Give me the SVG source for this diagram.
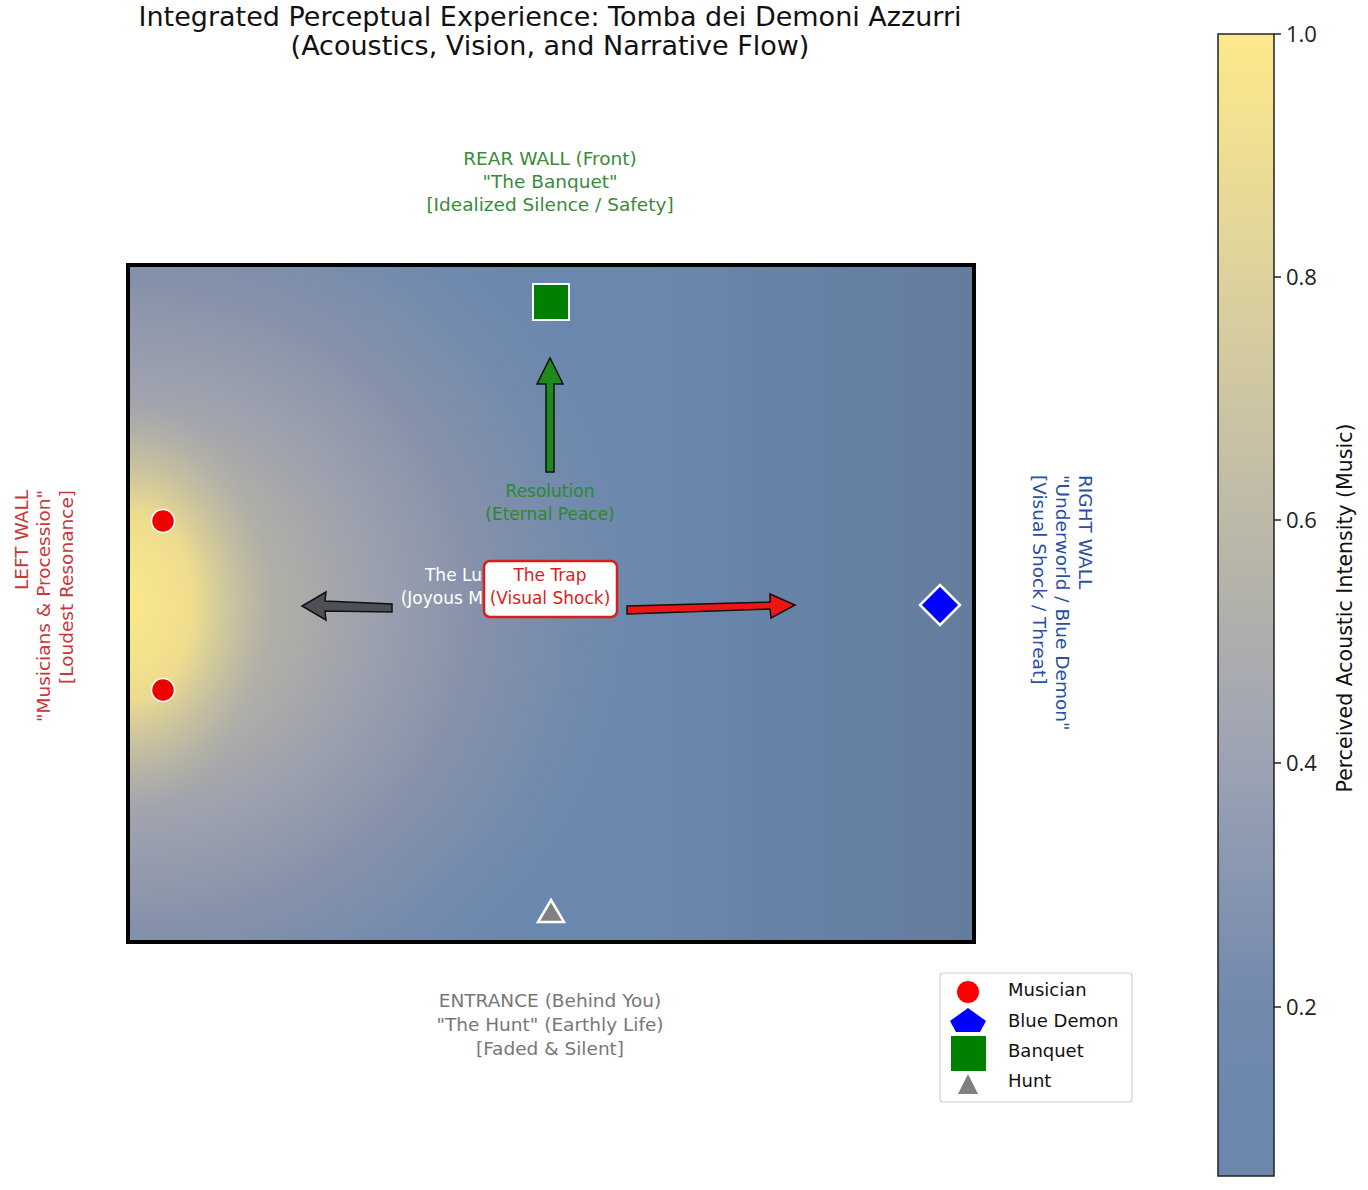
<svg xmlns="http://www.w3.org/2000/svg" width="1368" height="1190" viewBox="0 0 1368 1190">
<style>
text{font-family:"DejaVu Sans","Open Sans",sans-serif;}
.title{font-size:27px;fill:#111;text-anchor:middle;}
.wall{font-size:18.5px;}
.small{font-size:17px;}
.mid{text-anchor:middle;}
.tick{font-size:22px;fill:#222;font-family:"Open Sans","DejaVu Sans",sans-serif;}
.leg{font-size:18px;fill:#111;}
.arr{stroke:#111;stroke-width:1.5;stroke-linejoin:miter;}
</style>
<defs>
<radialGradient id="bg" gradientUnits="userSpaceOnUse" cx="128" cy="605" r="1" gradientTransform="translate(128 605) scale(540 500) translate(-128 -605)">
<stop offset="0" stop-color="#d8cf98"/>
<stop offset="0.25" stop-color="#b3b1a6"/>
<stop offset="0.45" stop-color="#9da1ae"/>
<stop offset="0.65" stop-color="#8591aa"/>
<stop offset="0.85" stop-color="#718aad"/>
<stop offset="1" stop-color="#6a87ae"/>
</radialGradient>
<radialGradient id="glow" gradientUnits="userSpaceOnUse" cx="128" cy="605" r="1" gradientTransform="translate(128 605) scale(145 205) translate(-128 -605)">
<stop offset="0" stop-color="#fbe98a" stop-opacity="1"/>
<stop offset="0.45" stop-color="#f3e08c" stop-opacity="0.9"/>
<stop offset="0.75" stop-color="#d9cf9a" stop-opacity="0.4"/>
<stop offset="1" stop-color="#c0bba4" stop-opacity="0"/>
</radialGradient>
<linearGradient id="dark" gradientUnits="userSpaceOnUse" x1="650" y1="0" x2="974" y2="0">
<stop offset="0" stop-color="#5d6f8a" stop-opacity="0"/>
<stop offset="1" stop-color="#5d6f8a" stop-opacity="0.45"/>
</linearGradient>
<linearGradient id="cb" x1="0" y1="0" x2="0" y2="1">
<stop offset="0" stop-color="#fde98a"/>
<stop offset="0.213" stop-color="#ddd29d"/>
<stop offset="0.426" stop-color="#bdb9a8"/>
<stop offset="0.639" stop-color="#9ca2b3"/>
<stop offset="0.852" stop-color="#7189ad"/>
<stop offset="1" stop-color="#6a86ab"/>
</linearGradient>
</defs>

<g id="title">
<text class="title" x="550" y="26">Integrated Perceptual Experience: Tomba dei Demoni Azzurri</text>
<text class="title" x="550" y="55">(Acoustics, Vision, and Narrative Flow)</text>
</g>

<g id="plot-area">
<rect x="128" y="265" width="846" height="677" fill="url(#bg)"/>
<rect x="128" y="265" width="846" height="677" fill="url(#glow)"/>
<rect x="128" y="265" width="846" height="677" fill="url(#dark)"/>
<rect x="128" y="265" width="846" height="677" fill="none" stroke="#000" stroke-width="4"/>
</g>

<g id="connectors">
<path class="arr" fill="#1e8a1e" d="M546,472 L554,472 L554,384 L563,384 L550,358 L537,384 L546,384 Z"/>
<path class="arr" fill="#4d5157" d="M392,604 L392,612 L325,611 L326,620 L302,606 L326,592 L325,601 Z"/>
<path class="arr" fill="#ee1515" d="M627,606 L627,614 L770,609 L771,618 L795,605 L770,594 L770,602 Z"/>
</g>

<g id="rear-wall-label" fill="#3a8a3a">
<text class="wall mid" x="550" y="165">REAR WALL (Front)</text>
<text class="wall mid" x="550" y="188">"The Banquet"</text>
<text class="wall mid" x="550" y="211">[Idealized Silence / Safety]</text>
</g>

<g id="left-wall-label" fill="#c8383a">
<text class="wall" text-anchor="end" transform="translate(28 490) rotate(-90)">LEFT WALL</text>
<text class="wall" text-anchor="end" transform="translate(50 490) rotate(-90)">"Musicians &amp; Procession"</text>
<text class="wall" text-anchor="end" transform="translate(73 490) rotate(-90)">[Loudest Resonance]</text>
</g>

<g id="right-wall-label" fill="#2a50a0">
<text class="wall" text-anchor="start" transform="translate(1079 475) rotate(90)">RIGHT WALL</text>
<text class="wall" text-anchor="start" transform="translate(1056 475) rotate(90)">"Underworld / Blue Demon"</text>
<text class="wall" text-anchor="start" transform="translate(1033 475) rotate(90)">[Visual Shock / Threat]</text>
</g>

<g id="entrance-label" fill="#777">
<text class="wall mid" x="550" y="1007">ENTRANCE (Behind You)</text>
<text class="wall mid" x="550" y="1031">"The Hunt" (Earthly Life)</text>
<text class="wall mid" x="550" y="1055">[Faded &amp; Silent]</text>
</g>

<g id="resolution-label" fill="#2a8a2a">
<text class="small mid" x="550" y="497">Resolution</text>
<text class="small mid" x="550" y="520">(Eternal Peace)</text>
</g>

<g id="lure-label" fill="#ffffff">
<text class="small mid" x="462" y="581">The Lure</text>
<text class="small mid" x="462" y="604">(Joyous Music)</text>
</g>

<g id="trap-label">
<rect x="484" y="561" width="133" height="56" rx="6" fill="#fff" stroke="#dd1c1c" stroke-width="2.5"/>
<text class="small mid" x="550" y="581" fill="#dd1c1c">The Trap</text>
<text class="small mid" x="550" y="604" fill="#dd1c1c">(Visual Shock)</text>
</g>

<g id="musician-1"><circle cx="163" cy="521" r="11.5" fill="#ee0000" stroke="#fff" stroke-width="1.5"/></g>
<g id="musician-2"><circle cx="163" cy="690" r="11.5" fill="#ee0000" stroke="#fff" stroke-width="1.5"/></g>
<g id="banquet"><rect x="533" y="284" width="36" height="36" fill="#008000" stroke="#fff" stroke-width="2"/></g>
<g id="blue-demon"><path d="M940,585 L960,605 L940,625 L920,605 Z" fill="#0000ff" stroke="#fff" stroke-width="2.5"/></g>
<g id="hunt"><path d="M551,900 L564,922 L538,922 Z" fill="#808080" stroke="#fff" stroke-width="2.5"/></g>

<g id="legend">
<rect x="940" y="973" width="192" height="129" rx="3" fill="#fff" stroke="#cfcfcf" stroke-width="1.2"/>
<circle cx="968" cy="992" r="11" fill="#ff0000"/>
<path d="M968,1008 L986,1021 L980,1032 L956,1032 L950,1021 Z" fill="#0000ff"/>
<rect x="951" y="1036" width="35" height="35" fill="#008000"/>
<path d="M968,1074 L978,1094 L958,1094 Z" fill="#808080"/>
<text class="leg" x="1008" y="996">Musician</text>
<text class="leg" x="1008" y="1027">Blue Demon</text>
<text class="leg" x="1008" y="1057">Banquet</text>
<text class="leg" x="1008" y="1087">Hunt</text>
</g>

<g id="colorbar">
<rect x="1218" y="34" width="56" height="1142" fill="url(#cb)" stroke="#222" stroke-width="1.5"/>
<g stroke="#222" stroke-width="1.5">
<line x1="1274" y1="34" x2="1281" y2="34"/>
<line x1="1274" y1="277" x2="1281" y2="277"/>
<line x1="1274" y1="520" x2="1281" y2="520"/>
<line x1="1274" y1="763" x2="1281" y2="763"/>
<line x1="1274" y1="1007" x2="1281" y2="1007"/>
</g>
<text class="tick" x="1286" y="42">1.0</text>
<text class="tick" x="1286" y="285">0.8</text>
<text class="tick" x="1286" y="528">0.6</text>
<text class="tick" x="1286" y="771">0.4</text>
<text class="tick" x="1286" y="1015">0.2</text>
<text x="1352" y="608" font-size="20.5" fill="#111" text-anchor="middle" transform="rotate(-90 1352 608)">Perceived Acoustic Intensity (Music)</text>
</g>
</svg>
